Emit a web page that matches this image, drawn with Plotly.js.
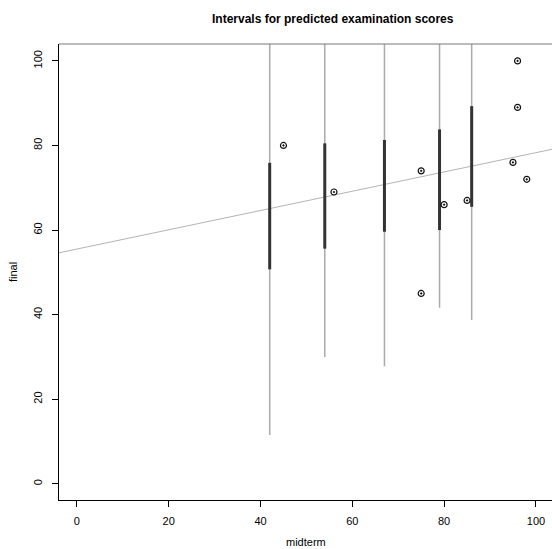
<!DOCTYPE html>
<html>
<head>
<meta charset="utf-8">
<script src="https://cdn.plot.ly/plotly-3.0.1.min.js"></script>
<style>
html,body{margin:0;padding:0;background:#fff;}
#chart{width:552px;height:549px;}
</style>
</head>
<body>
<div id="chart"></div>
<script>
// Observed data
const midterm = [45, 56, 75, 75, 80, 85, 95, 96, 96, 98];
const finalScore = [80, 69, 74, 45, 66, 67, 76, 100, 89, 72];

// Fitted regression line
const fitIntercept = 55.5;
const fitSlope = 0.228;

// New midterm values with intervals
const newMidterm = [42, 54, 67, 79, 86];
const predLower = [11.5, 30.0, 27.8, 41.6, 38.7];
const predUpper = [118.7, 105.6, 113.8, 105.4, 111.5];
const confLower = [50.7, 55.6, 59.6, 60.0, 65.5];
const confUpper = [75.9, 80.5, 81.3, 83.8, 89.3];

const xTicks = [0, 20, 40, 60, 80, 100];
const yTicks = [0, 20, 40, 60, 80, 100];

function segs(xs, lo, hi) {
  const x = [], y = [];
  xs.forEach((v, i) => { x.push(v, v, null); y.push(lo[i], hi[i], null); });
  return {x, y};
}

const lineX = [-10, 110];
const lineY = lineX.map(v => fitIntercept + fitSlope * v);

const pred = segs(newMidterm, predLower, predUpper);
const conf = segs(newMidterm, confLower, confUpper);

const font = "Liberation Sans, Arial, Helvetica, sans-serif";

const traces = [
  {x: lineX, y: lineY, mode: 'lines', line: {color: '#b4b4b4', width: 1}, hoverinfo: 'skip'},
  {x: pred.x, y: pred.y, mode: 'lines', line: {color: '#aaaaaa', width: 1.5}, hoverinfo: 'skip'},
  {x: conf.x, y: conf.y, mode: 'lines', line: {color: '#333333', width: 3}, hoverinfo: 'skip'},
  {x: midterm, y: finalScore, mode: 'markers', marker: {symbol: 'circle-open-dot', size: 6, color: '#111', line: {width: 1.2, color: '#111'}}}
];

const layout = {
  width: 552, height: 549,
  margin: {l: 59, r: 0, t: 44, b: 49},
  paper_bgcolor: '#fff', plot_bgcolor: '#fff',
  showlegend: false,
  font: {family: font, size: 11, color: '#000'},
  title: {text: '<b>Intervals for predicted examination scores</b>', font: {family: font, size: 12, color: '#000'},
          x: 306.5/552, xanchor: 'center', xref: 'paper', y: 1 - 18.5/549, yanchor: 'middle', yref: 'container'},
  xaxis: {
    range: [-3.9, 103.5], showgrid: false, zeroline: false,
    showline: true, linecolor: '#000', linewidth: 1,
    ticks: 'outside', ticklen: 6, tickcolor: '#000', tickwidth: 1,
    tickvals: xTicks, ticktext: xTicks.map(String), ticklabelstandoff: 5
  },
  yaxis: {
    range: [-3.85, 104.0], showgrid: false, zeroline: false,
    showline: true, linecolor: '#000', linewidth: 1,
    ticks: 'outside', ticklen: 6, tickcolor: '#000', tickwidth: 1,
    tickvals: yTicks, ticktext: yTicks.map(String), tickangle: -90, ticklabelstandoff: 6,
    title: {text: 'final', font: {family: font, size: 11}, standoff: 11}
  },
  annotations: [
    {text: 'midterm', xref: 'paper', yref: 'paper', x: 0.5, y: -41.5/456, xanchor: 'center', yanchor: 'middle',
     showarrow: false, font: {family: font, size: 11, color: '#000'}}
  ],
  shapes: [
    {type: 'line', xref: 'paper', yref: 'paper', x0: 0, x1: 1, y0: 1, y1: 1, line: {color: '#777', width: 1}}
  ]
};

Plotly.newPlot('chart', traces, layout, {displayModeBar: false, staticPlot: true});
</script>
</body>
</html>
